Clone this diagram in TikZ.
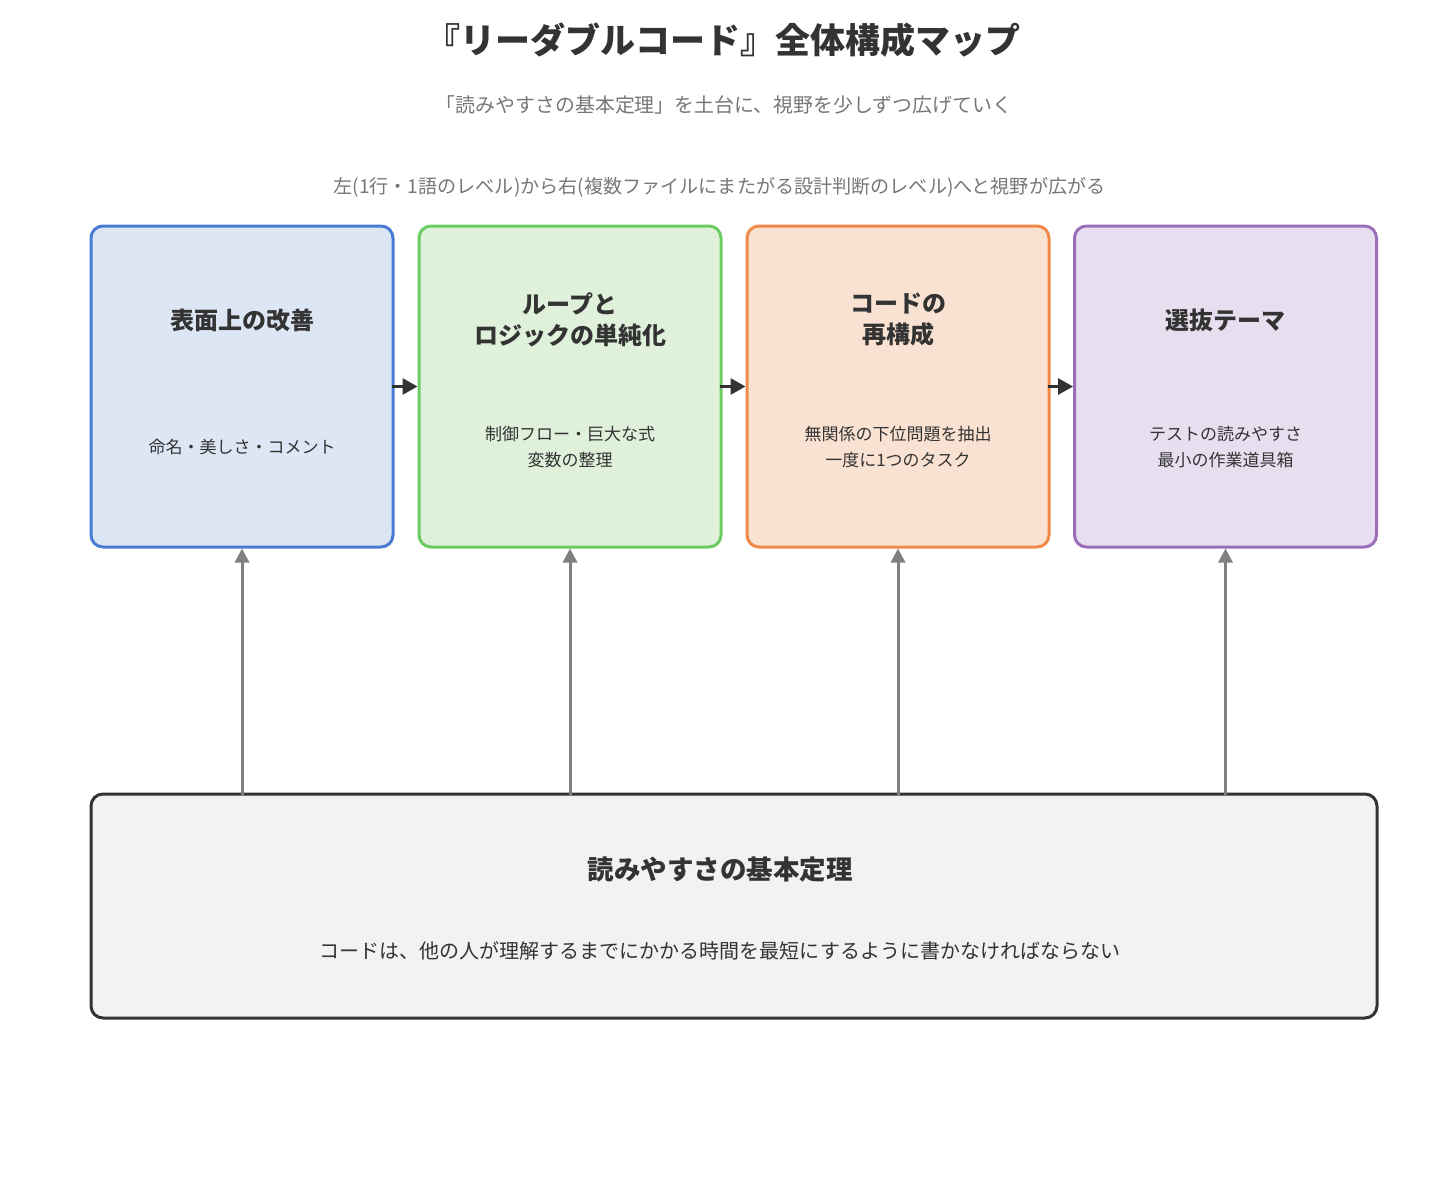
\documentclass[tikz,border=0pt]{standalone}
\usepackage{fontspec}
\setmainfont{Noto Sans CJK JP}
\usetikzlibrary{arrows.meta}

\definecolor{ink}{HTML}{333333}
\definecolor{subink}{HTML}{777777}
\definecolor{linkgrey}{HTML}{808080}
\definecolor{blueedge}{HTML}{4A7BD4}
\definecolor{bluefill}{HTML}{DDE6F4}
\definecolor{greenedge}{HTML}{6ACD63}
\definecolor{greenfill}{HTML}{DFF1DB}
\definecolor{orangeedge}{HTML}{F0894A}
\definecolor{orangefill}{HTML}{FAE2D2}
\definecolor{purpleedge}{HTML}{9B6FB8}
\definecolor{purplefill}{HTML}{E7DFF0}
\definecolor{basefill}{HTML}{F2F2F2}

\tikzset{
  stagebox/.style={draw, line width=3pt, rounded corners=12pt,
    minimum width=302pt, minimum height=321pt, inner sep=0pt},
  basebox/.style={draw=ink, fill=basefill, line width=3pt, rounded corners=12pt,
    minimum width=1286pt, minimum height=224pt, inner sep=0pt},
  boxtitle/.style={text=ink, font=\fontsize{24}{31}\selectfont\bfseries, align=center, inner sep=0pt},
  boxdesc/.style={text=ink, font=\fontsize{17}{26}\selectfont, align=center, inner sep=0pt},
  flow/.style={draw=ink, line width=3pt, -{Triangle[length=15pt,width=16pt]}, shorten <=-3pt},
  support/.style={draw=linkgrey, line width=3pt, -{Triangle[length=14pt,width=14pt]}},
}

\begin{document}
\begin{tikzpicture}[x=1pt, y=-1pt]
  \useasboundingbox[fill=white] (0,0) rectangle (1440,1199);

  % headings
  \node[text=ink, font=\fontsize{35}{42}\selectfont\bfseries, inner sep=0pt] (title) at (723,40)
    {『リーダブルコード』全体構成マップ};
  \node[text=subink, font=\fontsize{19.9}{24}\selectfont, inner sep=0pt] (subtitle) at (724,105)
    {「読みやすさの基本定理」を土台に、視野を少しずつ広げていく};
  \node[text=subink, font=\fontsize{19.1}{24}\selectfont, inner sep=0pt] (note) at (719.5,187)
    {左(1行・1語のレベル)から右(複数ファイルにまたがる設計判断のレベル)へと視野が広がる};

  % four stages
  \node[stagebox, draw=blueedge, fill=bluefill] (s1) at (242,386.5) {};
  \node[stagebox, draw=greenedge, fill=greenfill] (s2) at (570,386.5) {};
  \node[stagebox, draw=orangeedge, fill=orangefill] (s3) at (898,386.5) {};
  \node[stagebox, draw=purpleedge, fill=purplefill] (s4) at (1225.5,386.5) {};

  \node[boxtitle] (t1) at (242,320) {表面上の改善};
  \node[boxdesc] (d1) at (242,447) {命名・美しさ・コメント};

  \node[boxtitle] (t2) at (570,320) {ループと\\ロジックの単純化};
  \node[boxdesc] (d2) at (570,447) {制御フロー・巨大な式\\変数の整理};

  \node[boxtitle] (t3) at (898,320) {コードの\\再構成};
  \node[boxdesc] (d3) at (898,447) {無関係の下位問題を抽出\\一度に1つのタスク};

  \node[boxtitle] (t4) at (1225.5,320) {選抜テーマ};
  \node[boxdesc] (d4) at (1225.5,447) {テストの読みやすさ\\最小の作業道具箱};

  % foundation
  \node[basebox] (base) at (734,906) {};
  \node[text=ink, font=\fontsize{26.5}{32}\selectfont\bfseries, inner sep=0pt] (bt) at (720,869)
    {読みやすさの基本定理};
  \node[boxdesc, font=\fontsize{20}{26}\selectfont] (bd) at (720,951)
    {コードは、他の人が理解するまでにかかる時間を最短にするように書かなければならない};

  % progression between stages
  \draw[flow] (s1.east) -- (s2.west);
  \draw[flow] (s2.east) -- (s3.west);
  \draw[flow] (s3.east) -- (s4.west);

  % foundation supports every stage
  \foreach \s in {s1,s2,s3,s4}
    \draw[support] ([yshift=-3pt]base.north -| \s.south) -- (\s.south);
\end{tikzpicture}
\end{document}
